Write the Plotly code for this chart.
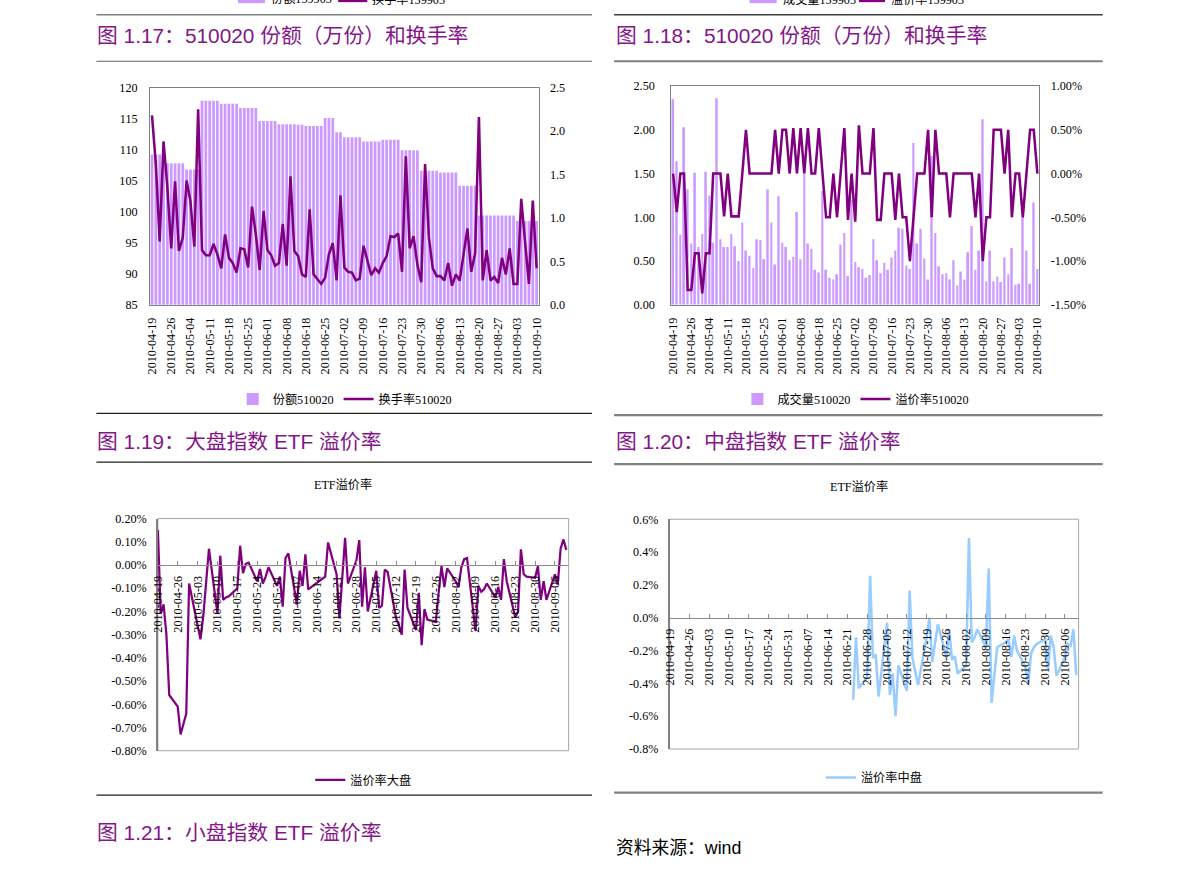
import plotly.graph_objects as go

# The photographed page area is the 8px body margin plus the figure, rescaled to
# 1191x878; the figure is sized and placed so that page pixels land where wanted.
PAGE_W, PAGE_H = 1191, 878
OFF = 8
CAP_W, CAP_H = PAGE_W + 2 * OFF, PAGE_H + 2 * OFF
SX, SY = PAGE_W / CAP_W, PAGE_H / CAP_H
W, H = CAP_W - OFF, CAP_H - OFF
FS = 2 / (SX + SY)

# ---------------- data ----------------
APR = [19, 20, 21, 22, 23, 26, 27, 28, 29, 30]
MAY = [4, 5, 6, 7, 10, 11, 12, 13, 14, 17, 18, 19, 20, 21, 24, 25, 26, 27, 28, 31]
JUN = [1, 2, 3, 4, 7, 8, 9, 10, 11, 17, 18, 21, 22, 23, 24, 25, 28, 29, 30]
JUL = [1, 2, 5, 6, 7, 8, 9, 12, 13, 14, 15, 16, 19, 20, 21, 22, 23, 26, 27, 28, 29, 30]
AUG = [2, 3, 4, 5, 6, 9, 10, 11, 12, 13, 16, 17, 18, 19, 20, 23, 24, 25, 26, 27, 30, 31]
SEP = [1, 2, 3, 6, 7, 8, 9, 10]
dates = ([f"2010-04-{d:02d}" for d in APR] + [f"2010-05-{d:02d}" for d in MAY] +
         [f"2010-06-{d:02d}" for d in JUN] + [f"2010-07-{d:02d}" for d in JUL] +
         [f"2010-08-{d:02d}" for d in AUG] + [f"2010-09-{d:02d}" for d in SEP])

ticks_trading = ["2010-04-19", "2010-04-26", "2010-05-04", "2010-05-11", "2010-05-18",
                 "2010-05-25", "2010-06-01", "2010-06-08", "2010-06-18", "2010-06-25",
                 "2010-07-02", "2010-07-09", "2010-07-16", "2010-07-23", "2010-07-30",
                 "2010-08-06", "2010-08-13", "2010-08-20", "2010-08-27", "2010-09-03",
                 "2010-09-10"]
ticks_weekly = ["2010-04-19", "2010-04-26", "2010-05-03", "2010-05-10", "2010-05-17",
                "2010-05-24", "2010-05-31", "2010-06-07", "2010-06-14", "2010-06-21",
                "2010-06-28", "2010-07-05", "2010-07-12", "2010-07-19", "2010-07-26",
                "2010-08-02", "2010-08-09", "2010-08-16", "2010-08-23", "2010-08-30",
                "2010-09-06"]

# 份额510020 (万份, left axis)
share_510020 = [109.2, 109.2, 109.2,
                107.8, 107.8, 107.8, 107.8, 107.8, 107.8,
                106.8, 106.8, 106.8, 106.8,
                117.9, 117.9, 117.9, 117.9, 117.9,
                117.4, 117.4, 117.4, 117.4, 117.4,
                116.7, 116.7, 116.7, 116.7, 116.7,
                114.6, 114.6, 114.6, 114.6, 114.6,
                114.1, 114.1, 114.1, 114.1, 114.1,
                114.0, 114.0,
                113.8, 113.8, 113.8, 113.8, 113.8,
                115.1, 115.1, 115.1,
                112.8, 112.8,
                112.0, 112.0, 112.0, 112.0, 112.0,
                111.3, 111.3, 111.3, 111.3, 111.3,
                111.6, 111.6, 111.6, 111.6, 111.6,
                109.9, 109.9, 109.9, 109.9, 109.9,
                106.6, 106.6, 106.6, 106.6, 106.6,
                106.3, 106.3, 106.3, 106.3, 106.3,
                104.2, 104.2, 104.2, 104.2, 104.2,
                99.4, 99.4, 99.4, 99.4, 99.4, 99.4, 99.4, 99.4, 99.4, 99.4,
                98.5, 98.5, 98.5, 98.5, 98.5, 98.5]

# 换手率510020 (right axis)
turnover_510020 = [2.18, 1.62, 0.73, 1.88, 1.35, 0.65, 1.42, 0.62, 0.77, 1.43,
                   1.19, 0.67, 2.25, 0.63, 0.57, 0.57, 0.70, 0.58, 0.42, 0.81,
                   0.54, 0.48, 0.37, 0.65, 0.64, 0.43, 1.13, 0.81, 0.40, 1.08,
                   0.63, 0.57, 0.45, 0.48, 0.93, 0.45, 1.48, 0.62, 0.56, 0.35,
                   0.32, 1.10, 0.35, 0.29, 0.24, 0.31, 0.58, 0.71, 0.28, 1.26,
                   0.43, 0.38, 0.37, 0.28, 0.30, 0.68, 0.50, 0.34, 0.42, 0.37,
                   0.48, 0.56, 0.79, 0.78, 0.82, 0.38, 1.71, 0.65, 0.79, 0.46,
                   0.26, 1.62, 0.77, 0.42, 0.33, 0.33, 0.28, 0.48, 0.22, 0.35,
                   0.28, 0.60, 0.88, 0.38, 0.59, 2.16, 0.28, 0.63, 0.28, 0.32,
                   0.25, 0.54, 0.35, 0.65, 0.24, 0.24, 1.22, 0.72, 0.24, 1.20,
                   0.42]

# 成交量510020 (left axis)
volume_510020 = [2.35, 1.64, 0.80, 2.03, 1.32, 0.70, 1.51, 0.66, 0.81, 1.52,
                 1.25, 0.71, 2.36, 0.75, 0.66, 0.66, 0.81, 0.67, 0.50, 0.94,
                 0.62, 0.56, 0.42, 0.75, 0.74, 0.52, 1.32, 0.94, 0.46, 1.24,
                 0.71, 0.66, 0.51, 0.55, 1.06, 0.52, 1.50, 0.70, 0.64, 0.40,
                 0.37, 1.30, 0.40, 0.31, 0.29, 0.35, 0.69, 0.82, 0.33, 1.20,
                 0.49, 0.43, 0.41, 0.31, 0.34, 0.75, 0.51, 0.36, 0.48, 0.40,
                 0.54, 0.62, 0.88, 0.87, 0.45, 0.41, 1.85, 0.70, 0.87, 0.53,
                 0.29, 1.70, 0.82, 0.44, 0.35, 0.36, 0.29, 0.51, 0.22, 0.38,
                 0.29, 0.60, 0.90, 0.40, 0.62, 2.12, 0.27, 0.62, 0.27, 0.32,
                 0.26, 0.54, 0.35, 0.65, 0.23, 0.24, 1.00, 0.62, 0.24, 1.17,
                 0.41]

# 溢价率510020 (%, right axis)
premium_510020 = [0.00, -0.44, 0.00, 0.00, -1.33, -1.33, -0.91, -0.91, -1.37, -0.91,
                  -0.91, 0.00, 0.00, 0.00, -0.49, 0.00, -0.49, -0.49, -0.49, 0.00,
                  0.50, 0.00, 0.00, 0.00, 0.00, 0.00, 0.00, 0.00, 0.50, 0.00,
                  0.50, 0.50, 0.00, 0.52, 0.00, 0.52, 0.00, 0.52, 0.00, 0.00,
                  0.52, 0.00, -0.50, -0.50, 0.00, -0.50, 0.00, 0.52, -0.53, 0.00,
                  -0.55, 0.55, 0.00, 0.00, 0.00, 0.52, -0.53, -0.53, 0.00, 0.00,
                  0.00, -0.53, 0.00, -0.50, -0.50, -1.00, -0.50, 0.00, 0.00, 0.00,
                  0.50, -0.50, 0.50, 0.00, 0.00, 0.00, -0.50, 0.00, 0.00, 0.00,
                  0.00, 0.00, 0.00, -0.50, 0.00, -1.00, -0.50, -0.50, 0.50, 0.50,
                  0.50, 0.00, 0.50, -0.50, 0.00, 0.00, -0.50, 0.00, 0.50, 0.50,
                  0.00]

# 溢价率大盘 (%)
premium_large = [0.15, -0.21, -0.17, -0.30, -0.56, -0.61, -0.73, -0.68, -0.64, -0.08,
                 -0.32, -0.22, -0.08, 0.07, -0.21, 0.04, -0.15, -0.14, -0.135, -0.10,
                 0.083, -0.035, 0.005, 0.01, -0.07, -0.017, -0.08, -0.05, -0.01, -0.09,
                 -0.05, -0.18, 0.03, 0.05, -0.17, -0.025, -0.09, 0.046, -0.105, -0.05,
                 0.097, -0.04, -0.23, -0.06, 0.117, -0.08, 0.02, 0.107, -0.18, -0.01,
                 -0.20, -0.025, -0.185, -0.175, -0.02, -0.03, -0.23, -0.26, -0.30, -0.02,
                 -0.185, -0.28, -0.12, -0.345, -0.19, -0.235, -0.245, -0.12, -0.005, -0.095,
                 -0.015, -0.07, -0.095, -0.01, 0.025, 0.03, -0.285, -0.09, -0.115, -0.105,
                 -0.08, -0.14, -0.095, -0.15, 0.025, -0.07, -0.225, -0.20, 0.067, -0.04,
                 -0.05, -0.055, -0.005, -0.15, -0.07, -0.15, -0.04, -0.085, 0.07, 0.11,
                 0.065]

# 溢价率中盘 (%), no data before 2010-06-23
premium_mid = [None] * 43 + [
    -0.50, -0.12, -0.43, -0.36, 0.255, -0.245, -0.225, -0.48, -0.03, -0.47,
    -0.34, -0.60, -0.29, -0.445, 0.165, -0.245, -0.33, -0.41, -0.12, 0.00,
    -0.27, -0.15, -0.04, -0.24, -0.07, -0.255, -0.235, -0.34, -0.29, 0.485,
    -0.15, -0.12, -0.07, -0.18, 0.30, -0.52, -0.36, -0.18, -0.15, -0.13,
    -0.24, -0.11, -0.20, -0.30, -0.40, -0.22, -0.18, -0.16, -0.13, -0.31,
    -0.11, -0.18, -0.355, -0.24, -0.16, -0.17, -0.07, -0.35]

y1_ticks = [85, 90, 95, 100, 105, 110, 115, 120]
y2_ticks = [0.0, 0.5, 1.0, 1.5, 2.0, 2.5]
y2_labels = ["0.0", "0.5", "1.0", "1.5", "2.0", "2.5"]
y3_labels = ["0.00", "0.50", "1.00", "1.50", "2.00", "2.50"]
y4_ticks = [-1.5, -1.0, -0.5, 0.0, 0.5, 1.0]
y4_labels = ["-1.50%", "-1.00%", "-0.50%", "0.00%", "0.50%", "1.00%"]
y5_ticks = [0.2, 0.1, 0.0, -0.1, -0.2, -0.3, -0.4, -0.5, -0.6, -0.7, -0.8]
y5_labels = ["0.20%", "0.10%", "0.00%", "-0.10%", "-0.20%", "-0.30%", "-0.40%",
             "-0.50%", "-0.60%", "-0.70%", "-0.80%"]
y6_ticks = [0.6, 0.4, 0.2, 0.0, -0.2, -0.4, -0.6, -0.8]
y6_labels = ["0.6%", "0.4%", "0.2%", "0.0%", "-0.2%", "-0.4%", "-0.6%", "-0.8%"]

# ---------------- styling ----------------
PURPLE = "#800080"
LAVENDER = "#CC99FF"
SKY = "#99CCFF"
TITLE_C = "#84168A"
SERIF = "Liberation Serif, Noto Sans CJK SC, serif"
SANS = "Liberation Sans, Noto Sans CJK SC, sans-serif"
AX_FONT = dict(family=SERIF, size=12 * FS, color="#000000")


def px(x):
    """picture pixel x -> paper fraction"""
    return (x / SX - OFF) / W


def py(y):
    """picture pixel y -> paper fraction"""
    return 1 - (y / SY - OFF) / H


def dom_x(a, b):
    return [px(a), px(b)]


def dom_y(top, bottom):
    return [py(bottom), py(top)]


def lw(w):
    return w * FS


c1x, c1y = dom_x(150.5, 537.7), dom_y(88.3, 305)
c2x, c2y = dom_x(670, 1036.7), dom_y(86.7, 305)
c3x, c3y = dom_x(158.3, 567.7), dom_y(518.3, 750)
c4x, c4y = dom_x(668.3, 1076), dom_y(519, 748.3)

r5 = [-0.8, 0.2]
r6 = [-0.8, 0.6]
xr_date = ["2010-04-19", "2010-09-10 20:00"]


def zero_pos(ydom, yr):
    return ydom[0] + (0 - yr[0]) / (yr[1] - yr[0]) * (ydom[1] - ydom[0])


fig = go.Figure()

fig.add_trace(go.Bar(x=dates, y=share_510020, xaxis="x", yaxis="y", width=0.72,
                     marker=dict(color=LAVENDER, line=dict(width=0)),
                     name="份额510020", legend="legend"))
fig.add_trace(go.Scatter(x=dates, y=turnover_510020, xaxis="x", yaxis="y2", mode="lines",
                         line=dict(color=PURPLE, width=lw(2.5)), name="换手率510020",
                         legend="legend"))
fig.add_trace(go.Bar(x=dates, y=volume_510020, xaxis="x2", yaxis="y3", width=0.5,
                     marker=dict(color=LAVENDER, line=dict(width=0)),
                     name="成交量510020", legend="legend2"))
fig.add_trace(go.Scatter(x=dates, y=premium_510020, xaxis="x2", yaxis="y4", mode="lines",
                         line=dict(color=PURPLE, width=lw(2.5)), name="溢价率510020",
                         legend="legend2"))
fig.add_trace(go.Scatter(x=dates, y=premium_large, xaxis="x3", yaxis="y5", mode="lines",
                         line=dict(color=PURPLE, width=lw(2.2)), name="溢价率大盘",
                         legend="legend3"))
fig.add_trace(go.Scatter(x=dates, y=premium_mid, xaxis="x4", yaxis="y6", mode="lines",
                         line=dict(color=SKY, width=lw(2.5)), name="溢价率中盘",
                         legend="legend4"))

common = dict(showgrid=False, zeroline=False, tickfont=AX_FONT, fixedrange=True)

layout = dict(
    width=W, height=H, autosize=False,
    margin=dict(l=0, r=0, t=0, b=0, pad=0),
    paper_bgcolor="white", plot_bgcolor="white",
    showlegend=True,
    font=dict(family=SERIF, size=12 * FS, color="#000"),
    # chart 1
    xaxis=dict(domain=c1x, anchor="y", type="category", range=[-0.5, len(dates) - 0.5],
               tickmode="array", tickvals=ticks_trading, ticktext=ticks_trading,
               tickangle=-90, showline=True, linecolor="#808080", mirror=True,
               ticks="", ticklabelstandoff=7, **common),
    yaxis=dict(domain=c1y, anchor="x", range=[85, 120], tickmode="array",
               tickvals=y1_ticks, showline=True, linecolor="#808080", ticks="",
               ticklabelstandoff=9, **common),
    yaxis2=dict(domain=c1y, anchor="x", overlaying="y", side="right", range=[0, 2.5],
                tickmode="array", tickvals=y2_ticks, ticktext=y2_labels, showline=True,
                linecolor="#808080", ticks="", ticklabelstandoff=8, **common),
    # chart 2
    xaxis2=dict(domain=c2x, anchor="y3", type="category", range=[-0.5, len(dates) - 0.5],
                tickmode="array", tickvals=ticks_trading, ticktext=ticks_trading,
                tickangle=-90, showline=True, linecolor="#808080", mirror=True,
                ticks="", ticklabelstandoff=7, **common),
    yaxis3=dict(domain=c2y, anchor="x2", range=[0, 2.5], tickmode="array",
                tickvals=y2_ticks, ticktext=y3_labels, showline=True, linecolor="#808080",
                ticks="", ticklabelstandoff=13, **common),
    yaxis4=dict(domain=c2y, anchor="x2", overlaying="y3", side="right", range=[-1.5, 1.0],
                tickmode="array", tickvals=y4_ticks, ticktext=y4_labels,
                showline=True, linecolor="#808080", ticks="", ticklabelstandoff=8, **common),
    # chart 3
    xaxis3=dict(domain=c3x, anchor="free", position=zero_pos(c3y, r5), type="date",
                range=xr_date, tickmode="array", tickvals=ticks_weekly, ticktext=ticks_weekly,
                tickangle=-90, showline=True, linecolor="#8C8C8C", linewidth=1,
                ticks="inside", ticklen=4, tickcolor="#8C8C8C", ticklabelstandoff=5,
                **common),
    yaxis5=dict(domain=c3y, anchor="x3", range=r5, tickmode="array", tickvals=y5_ticks,
                ticktext=y5_labels, showline=True, linecolor="#808080",
                linewidth=1.5, ticks="", ticklabelstandoff=7, **common),
    # chart 4
    xaxis4=dict(domain=c4x, anchor="free", position=zero_pos(c4y, r6), type="date",
                range=xr_date, tickmode="array", tickvals=ticks_weekly, ticktext=ticks_weekly,
                tickangle=-90, showline=True, linecolor="#8C8C8C", linewidth=1,
                ticks="inside", ticklen=4, tickcolor="#8C8C8C", ticklabelstandoff=5,
                **common),
    yaxis6=dict(domain=c4y, anchor="x4", range=r6, tickmode="array", tickvals=y6_ticks,
                ticktext=y6_labels, showline=True, linecolor="#808080",
                linewidth=1.5, ticks="", ticklabelstandoff=7, **common),
)

leg_common = dict(orientation="h", xanchor="center", yanchor="middle",
                  font=dict(family=SERIF, size=12 * FS, color="#000"),
                  bgcolor="rgba(0,0,0,0)", borderwidth=0, itemwidth=30,
                  tracegroupgap=0, itemclick=False, itemdoubleclick=False)
layout["legend"] = dict(x=px(344.5), y=py(399), **leg_common)
layout["legend2"] = dict(x=px(854), y=py(399), **leg_common)
layout["legend3"] = dict(x=px(363), y=py(779), **leg_common)
layout["legend4"] = dict(x=px(872), y=py(776.7), **leg_common)

fig.update_layout(**layout)

# ---------------- page decorations ----------------
shapes = []


def hline(y, x0, x1, color, width):
    shapes.append(dict(type="line", xref="paper", yref="paper", x0=px(x0), x1=px(x1),
                       y0=py(y), y1=py(y), line=dict(color=color, width=lw(width))))


hline(15.7, 97, 591, "#808080", 1.5)
hline(15.7, 613, 1100, "#404040", 1.5)
hline(62, 97, 591, "#606060", 1.2)
hline(62, 613, 1100, "#808080", 1.8)
hline(413.3, 97, 591, "#202020", 1.2)
hline(415, 613, 1100, "#808080", 2.2)
hline(462, 97, 591, "#202020", 1.2)
hline(464, 613, 1100, "#808080", 2.2)
hline(794.3, 97, 591, "#202020", 1.2)
hline(791.7, 613, 1100, "#808080", 2.2)

# plot-area frames for charts 3 and 4
for xa, ya in (("x3", "y5"), ("x4", "y6")):
    shapes.append(dict(type="rect", xref=f"{xa} domain", yref=f"{ya} domain",
                       x0=0, x1=1, y0=0, y1=1, layer="below",
                       line=dict(color="#A6A6A6", width=1)))

# legend fragments of the previous charts (cut by the page top)
for (sx0, sx1, lx0, lx1) in ((238, 265, 338, 367), (748, 775, 857, 883)):
    shapes.append(dict(type="rect", xref="paper", yref="paper", x0=px(sx0), x1=px(sx1),
                       y0=py(4), y1=py(-6), fillcolor=LAVENDER, line=dict(width=0)))
    shapes.append(dict(type="line", xref="paper", yref="paper", x0=px(lx0), x1=px(lx1),
                       y0=py(1.5), y1=py(1.5), line=dict(color=PURPLE, width=lw(3))))

annotations = []


def text(x, y, s, font, xanchor="left"):
    annotations.append(dict(x=px(x), y=py(y), xref="paper", yref="paper", text=s,
                            showarrow=False, xanchor=xanchor, yanchor="middle",
                            font=font))


frag_font = dict(family=SERIF, size=12 * FS, color="#000")
text(269, 0, "份额159903", frag_font)
text(370, 0, "换手率159903", frag_font)
text(779, 0, "成交量159903", frag_font)
text(887, 0, "溢价率159903", frag_font)

title_font = dict(family=SANS, size=20.5 * FS, color=TITLE_C)
text(96, 36.5, "图 1.17：510020 份额（万份）和换手率", title_font)
text(613, 36.5, "图 1.18：510020 份额（万份）和换手率", title_font)
text(96, 441, "图 1.19：大盘指数 ETF 溢价率", title_font)
text(613, 441, "图 1.20：中盘指数 ETF 溢价率", title_font)
text(96, 831.5, "图 1.21：小盘指数 ETF 溢价率", title_font)

small = dict(family=SERIF, size=12 * FS, color="#000")
text(343, 484.5, "ETF溢价率", small, "center")
text(857, 486.5, "ETF溢价率", small, "center")

text(613, 847, "资料来源：wind", dict(family=SANS, size=17.5 * FS, color="#000"))

fig.update_layout(shapes=shapes, annotations=annotations)

fig.write_html("out.html")
